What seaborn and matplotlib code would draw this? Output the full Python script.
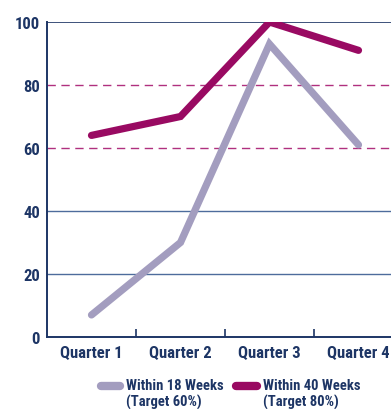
import numpy as np
import pandas as pd
import seaborn as sns
import matplotlib.pyplot as plt
from matplotlib.lines import Line2D

# ── data ─────────────────────────────────────────────────────────────────
quarters = ["Quarter 1", "Quarter 2", "Quarter 3", "Quarter 4"]
within_18 = [7, 30, 93, 61]
within_40 = [64, 70, 100, 91]
series_labels = ["Within 18 Weeks\n(Target 60%)", "Within 40 Weeks\n(Target 80%)"]

navy = "#1d3565"
colors = {series_labels[0]: "#a39dbf", series_labels[1]: "#990a62"}

df = pd.DataFrame({
    "quarter": quarters * 2,
    "pct": within_18 + within_40,
    "series": [series_labels[0]] * 4 + [series_labels[1]] * 4,
})
df["x"] = df["quarter"].map({q: i for i, q in enumerate(quarters)})

sns.set_style("white")
plt.rcParams["font.family"] = ["Roboto Condensed", "DejaVu Sans"]
plt.rcParams["font.weight"] = "bold"

W, H = 391, 410
fig = plt.figure(figsize=(W / 100, H / 100), dpi=100)
ax = fig.add_axes([47 / W, 72 / H, 1 - 47 / W, 315 / H])

# gridlines behind the lines
for y in [20, 40]:
    ax.axhline(y, color="#4d6c9c", lw=1.0, zorder=1)
for y in [60, 80]:
    ax.axhline(y, color="#b0307f", lw=1.0, ls=(0, (6, 4)), zorder=1)
ax.axhline(100, color=navy, lw=1.2, zorder=1)

sns.lineplot(data=df, x="x", y="pct", hue="series", palette=colors,
             linewidth=5.2, ax=ax, legend=False, zorder=3,
             solid_capstyle="round", solid_joinstyle="miter")

ax.set_xlim(-0.5, (W - 47) / 89 - 0.5)
ax.set_ylim(0, 100)
ax.set_xticks(range(4))
ax.set_xticklabels(quarters)
ax.set_xticks([0.5, 1.5, 2.5], minor=True)
ax.set_yticks([0, 20, 40, 60, 80, 100])
ax.tick_params(axis="x", which="major", length=0, pad=6, labelsize=12, labelcolor=navy)
ax.tick_params(axis="x", which="minor", direction="in", length=6, width=1.2, color=navy, bottom=True)
ax.tick_params(axis="y", length=0, pad=5, labelsize=12, labelcolor=navy)
ax.set_xlabel("")
ax.set_ylabel("")

for s in ["top", "right"]:
    ax.spines[s].set_visible(False)
for s in ["left", "bottom"]:
    ax.spines[s].set_color(navy)
    ax.spines[s].set_linewidth(1.4)

# legend laid out by hand: handle sits on the first text line
for label, (x0, x1, xt) in zip(series_labels, [(101, 120, 126), (236, 257, 263)]):
    yl = (H - 387) / H
    fig.add_artist(Line2D([x0 / W, x1 / W], [yl, yl], color=colors[label], lw=6,
                          solid_capstyle="round", transform=fig.transFigure))
    fig.text(xt / W, (H - 379) / H, label, ha="left", va="top", fontsize=10.5,
             color=navy, linespacing=1.15, fontweight="bold")

fig.savefig("out.png", dpi=100)
